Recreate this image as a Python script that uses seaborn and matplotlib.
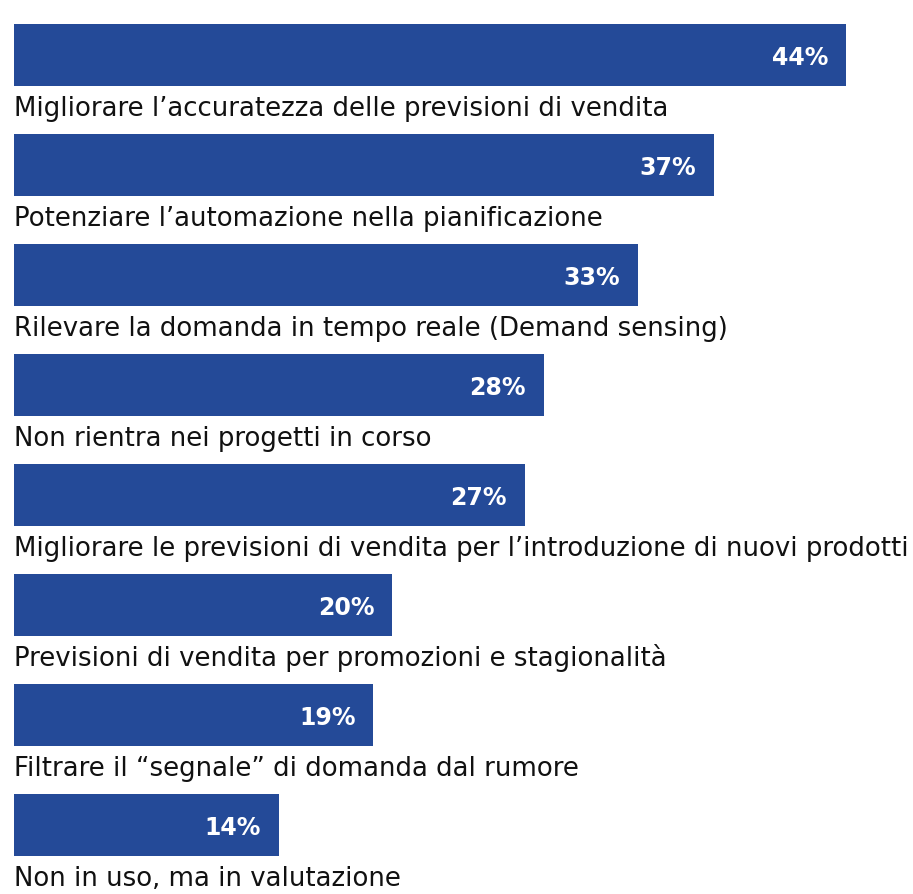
import matplotlib
matplotlib.use("Agg")
import matplotlib.pyplot as plt
import seaborn as sns
import pandas as pd

categories = [
    "Migliorare l\u2019accuratezza delle previsioni di vendita",
    "Potenziare l\u2019automazione nella pianificazione",
    "Rilevare la domanda in tempo reale (Demand sensing)",
    "Non rientra nei progetti in corso",
    "Migliorare le previsioni di vendita per l\u2019introduzione di nuovi prodotti",
    "Previsioni di vendita per promozioni e stagionalit\u00e0",
    "Filtrare il \u201csegnale\u201d di domanda dal rumore",
    "Non in uso, ma in valutazione",
]
values = [44, 37, 33, 28, 27, 20, 19, 14]

df = pd.DataFrame({"cat": categories, "val": values})

sns.set_theme(style="white")
plt.rcParams['font.family'] = ['DejaVu Sans']

fig = plt.figure(figsize=(9.13, 8.95), dpi=100)
ax = fig.add_axes([14/913, 0, 889/913, 1])
bar_w = 62/110
sns.barplot(data=df, x="val", y="cat", orient="h", color="#244A98",
            saturation=1, width=bar_w, linewidth=0, ax=ax)
ax.set_xlim(0, 47)
ax.set_ylim(7 + (895-826)/110, -56/110)
for i, (c, v) in enumerate(zip(categories, values)):
    ax.text(v - 0.95, i + 0.085, f"{v}%", ha="right", va="baseline",
            color="white", fontsize=17, fontweight="bold")
    ax.text(0, i + 0.545, c, ha="left", va="baseline", color="#111111",
            fontsize=18.7)
ax.axis("off")
fig.savefig("out.png", dpi=100)
